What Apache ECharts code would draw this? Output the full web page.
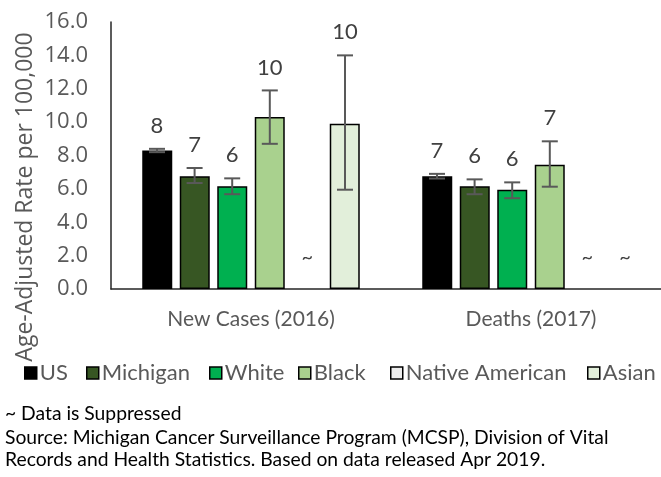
<!DOCTYPE html>
<html><head><meta charset="utf-8">
<script src="https://cdn.jsdelivr.net/npm/echarts@6/dist/echarts.min.js"></script>
<style>html,body{margin:0;padding:0;background:#fff;overflow:hidden}#c{width:700px;height:477px}</style>
</head><body><div id="c"></div>
<script>
const categories = ['New Cases (2016)', 'Deaths (2017)'];
const seriesNames = ['US', 'Michigan', 'White', 'Black', 'Native American', 'Asian'];
const colors = ['#000000', '#375623', '#00B050', '#A9D18E', '#EDEDED', '#E2EFDA'];
// null = suppressed
const usVals       = [8.3, 6.75];
const michiganVals = [6.75, 6.15];
const whiteVals    = [6.15, 5.95];
const blackVals    = [10.3, 7.45];
const nativeVals   = [null, null];
const asianVals    = [9.9, null];
const usCI       = [[8.2, 8.4], [6.62, 6.9]];
const michiganCI = [[6.35, 7.25], [5.68, 6.57]];
const whiteCI    = [[5.68, 6.63], [5.44, 6.39]];
const blackCI    = [[8.7, 11.9], [6.13, 8.85]];
const nativeCI   = [null, null];
const asianCI    = [[5.95, 14.0], null];
const yTicks = [0, 2, 4, 6, 8, 10, 12, 14, 16];

const values = [usVals, michiganVals, whiteVals, blackVals, nativeVals, asianVals];
const cis = [usCI, michiganCI, whiteCI, blackCI, nativeCI, asianCI];

const BAR_W = 30, STEP = 37.6;
const FONT = 'Lato, "Open Sans", sans-serif';
const legendLeft = [24, 86, 209, 298, 390, 587];

const series = [];
seriesNames.forEach((name, i) => {
  series.push({
    name, type: 'bar', barWidth: BAR_W, barGap: '25%', barCategoryGap: '23%',
    itemStyle: { color: colors[i], borderColor: '#000', borderWidth: 1.5 },
    data: values[i].map(v => v == null ? '-' : v)
  });
});
seriesNames.forEach((name, i) => {
  const data = categories.map((c, j) => {
    const ci = cis[i][j];
    const v = values[i][j];
    return ci ? [j, ci[0], ci[1], String(Math.round(v)), 0] : [j, 0, 0, '~', 1];
  });
  series.push({
    type: 'custom', name: name + '_err', silent: true, z: 5,
    data,
    renderItem(params, api) {
      const j = api.value(0);
      const offset = (i - 2.5) * STEP;
      const base = api.coord([j, 0]);
      const x = base[0] + offset;
      const suppressed = api.value(4) === 1;
      const label = data[params.dataIndex][3];
      if (suppressed) {
        return { type: 'text', style: { x, y: base[1] - 31, text: '~', font: '20px ' + FONT, fill: '#404040', textAlign: 'center', textVerticalAlign: 'middle' } };
      }
      const lo = api.coord([j, api.value(1)])[1];
      const hi = api.coord([j, api.value(2)])[1];
      const cap = 8;
      const st = { stroke: '#595959', lineWidth: 2 };
      return { type: 'group', children: [
        { type: 'line', shape: { x1: x, y1: lo, x2: x, y2: hi }, style: st },
        { type: 'line', shape: { x1: x - cap, y1: lo, x2: x + cap, y2: lo }, style: st },
        { type: 'line', shape: { x1: x - cap, y1: hi, x2: x + cap, y2: hi }, style: st },
        { type: 'text', style: { x, y: hi - 23, text: label, font: '22px ' + FONT, fill: '#404040', textAlign: 'center', textVerticalAlign: 'middle' } }
      ]};
    }
  });
});

const legends = seriesNames.map((n, i) => ({
  data: [{ name: n, itemStyle: { color: colors[i], borderColor: '#000', borderWidth: 1.5 } }],
  left: legendLeft[i] - 5, top: 357, itemWidth: 12, itemHeight: 12, icon: 'rect',
  textStyle: { fontSize: 22, color: '#595959', fontFamily: FONT, padding: [0, 0, 0, -2] }
}));

const chart = echarts.init(document.getElementById('c'), null, { renderer: 'canvas' });
chart.setOption({
  animation: false,
  textStyle: { fontFamily: FONT },
  grid: { left: 111, top: 22, width: 560, height: 267, containLabel: false },
  legend: legends,
  xAxis: {
    type: 'category', data: categories,
    axisLine: { lineStyle: { color: '#262626', width: 1.5 } },
    axisTick: { show: false },
    axisLabel: { fontSize: 21, color: '#595959', margin: 20 }
  },
  yAxis: {
    type: 'value', min: 0, max: 16, interval: 2,
    axisLine: { show: true, lineStyle: { color: '#262626', width: 1.5 } },
    axisTick: { show: false }, splitLine: { show: false },
    axisLabel: { fontSize: 22, color: '#595959', margin: 23, fontFamily: '"Open Sans", sans-serif', formatter: v => yTicks.includes(v) ? v.toFixed(1) : '' }
  },
  graphic: [
    { type: 'text', x: 25, y: 197, rotation: Math.PI / 2, style: { text: 'Age-Adjusted Rate per 100,000', font: '23px "Open Sans", sans-serif', fill: '#595959', textAlign: 'center', textVerticalAlign: 'middle' } },
    { type: 'text', left: 5, top: 404, style: { text: '~ Data is Suppressed', font: '19.3px ' + FONT, fill: '#000' } },
    { type: 'text', left: 5, top: 428, style: { text: 'Source: Michigan Cancer Surveillance Program (MCSP), Division of Vital', font: '19.3px ' + FONT, fill: '#000' } },
    { type: 'text', left: 5, top: 450, style: { text: 'Records and Health Statistics. Based on data released Apr 2019.', font: '19.3px ' + FONT, fill: '#000' } }
  ],
  series
});
</script></body></html>
